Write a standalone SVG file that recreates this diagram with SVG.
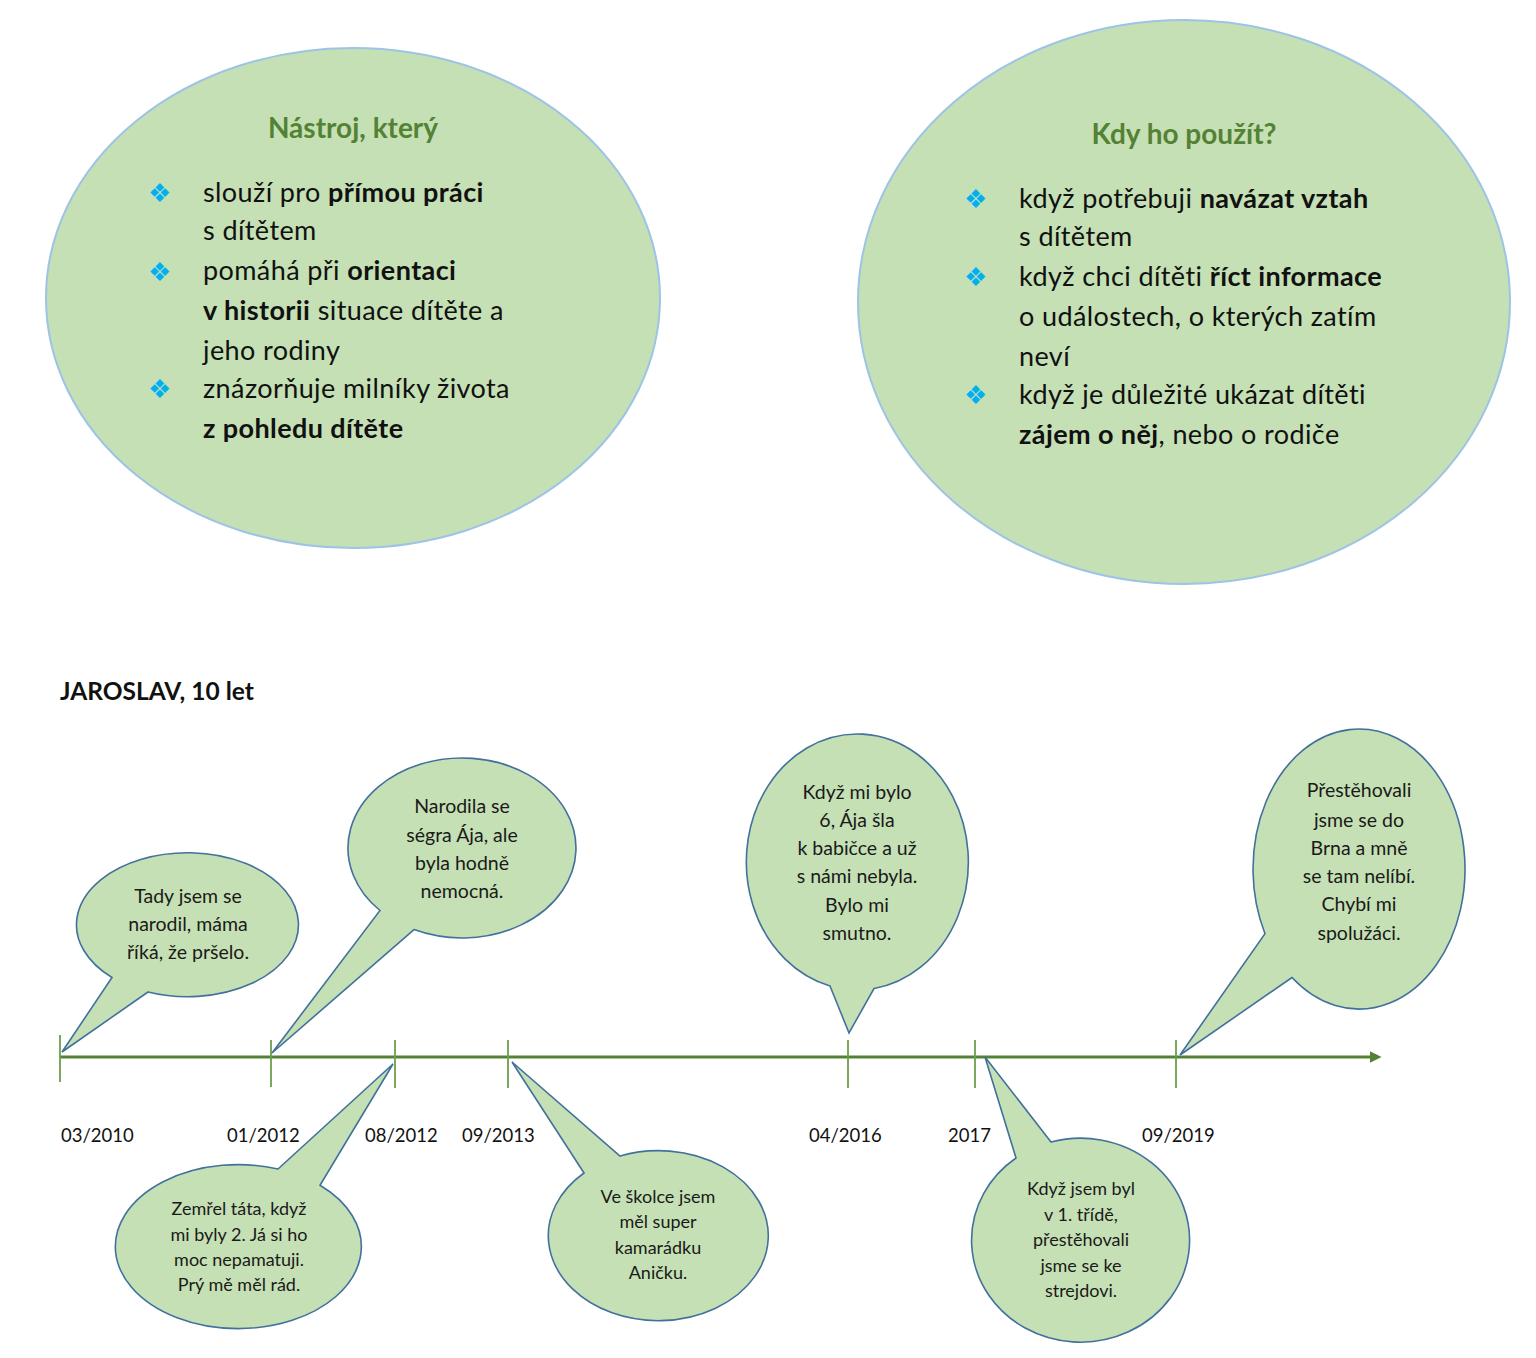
<svg xmlns="http://www.w3.org/2000/svg" width="1536" height="1358" viewBox="0 0 1536 1358">
<style>
.big{fill:#c5e0b4;stroke:#9dc3e6;stroke-width:2}
.bub{fill:#c5e0b4;stroke:#41719c;stroke-width:1.6;stroke-linejoin:miter}
.t{font-family:Lato,"Noto Sans","Open Sans",sans-serif;fill:#111}
.title{font-family:Lato,"Noto Sans",sans-serif;font-weight:bold;font-size:28px;fill:#548235}
.body{font-size:27px;letter-spacing:0.4px}
.b{font-weight:bold}
.bul{font-family:"DejaVu Sans",sans-serif;font-size:26px;fill:#00b0f0}
.bt{font-size:19.5px;text-anchor:middle;fill:#1a1a1a}
.bs{font-size:18px;text-anchor:middle;fill:#1a1a1a}
.date{font-size:18.5px}
.tick{stroke:#6d9f4b;stroke-width:1.8}
</style>
<defs>
<marker id="arr" viewBox="0 0 10 10" refX="2" refY="5" markerWidth="4" markerHeight="4" orient="auto" markerUnits="strokeWidth">
<path d="M0,0 L10,5 L0,10 Z" fill="#548235"/>
</marker>
</defs>
<rect width="1536" height="1358" fill="#ffffff"/>

<g id="tool-ellipse">
<ellipse class="big" cx="353" cy="298" rx="307" ry="250"/>
<text class="title" x="353" y="138" text-anchor="middle">Nástroj, který</text>
<text class="bul" x="148" y="202">❖</text>
<text class="bul" x="148" y="281">❖</text>
<text class="bul" x="148" y="398">❖</text>
<text class="t body" x="203" y="202">slouží pro <tspan class="b">přímou práci</tspan></text>
<text class="t body" x="203" y="240">s dítětem</text>
<text class="t body" x="203" y="280">pomáhá při <tspan class="b">orientaci</tspan></text>
<text class="t body" x="203" y="320"><tspan class="b">v historii</tspan> situace dítěte a</text>
<text class="t body" x="203" y="360">jeho rodiny</text>
<text class="t body" x="203" y="398">znázorňuje milníky života</text>
<text class="t body" x="203" y="438" font-weight="bold">z pohledu dítěte</text>
</g>

<g id="when-ellipse">
<ellipse class="big" cx="1184" cy="302" rx="326" ry="282"/>
<text class="title" x="1184" y="144" text-anchor="middle">Kdy ho použít?</text>
<text class="bul" x="964" y="208">❖</text>
<text class="bul" x="964" y="286">❖</text>
<text class="bul" x="964" y="404">❖</text>
<text class="t body" x="1019" y="208">když potřebuji <tspan class="b">navázat vztah</tspan></text>
<text class="t body" x="1019" y="246">s dítětem</text>
<text class="t body" x="1019" y="286">když chci dítěti <tspan class="b">říct informace</tspan></text>
<text class="t body" x="1019" y="326">o událostech, o kterých zatím</text>
<text class="t body" x="1019" y="366">neví</text>
<text class="t body" x="1019" y="404">když je důležité ukázat dítěti</text>
<text class="t body" x="1019" y="444"><tspan class="b">zájem o něj</tspan>, nebo o rodiče</text>
</g>

<g id="heading">
<text class="t" x="60" y="700" font-size="24.5" font-weight="bold">JAROSLAV, 10 let</text>
</g>

<g id="connectors">
<line x1="60" y1="1057" x2="1372" y2="1057" stroke="#548235" stroke-width="3" marker-end="url(#arr)"/>
<line class="tick" x1="60" y1="1035" x2="60" y2="1082"/>
<line class="tick" x1="271" y1="1040" x2="271" y2="1087"/>
<line class="tick" x1="395" y1="1040" x2="395" y2="1088"/>
<line class="tick" x1="508" y1="1040" x2="508" y2="1088"/>
<line class="tick" x1="848" y1="1040" x2="848" y2="1088"/>
<line class="tick" x1="975" y1="1040" x2="975" y2="1088"/>
<line class="tick" x1="1176" y1="1040" x2="1176" y2="1088"/>
</g>

<g id="dates">
<text class="t date" x="61" y="1142">03/2010</text>
<text class="t date" x="227" y="1142">01/2012</text>
<text class="t date" x="365" y="1142">08/2012</text>
<text class="t date" x="462" y="1142">09/2013</text>
<text class="t date" x="809" y="1142">04/2016</text>
<text class="t date" x="948" y="1142">2017</text>
<text class="t date" x="1142" y="1142">09/2019</text>
</g>

<g id="bubble-2010">
<path class="bub" d="M148,992 L62,1052 L112,977.5 A111,72 0 1 1 148,992 Z"/>
<text class="t bt" x="188" y="903">Tady jsem se</text>
<text class="t bt" x="188" y="931">narodil, máma</text>
<text class="t bt" x="188" y="959">říká, že pršelo.</text>
</g>

<g id="bubble-012012">
<path class="bub" d="M414,929.6 L272,1053 L380,910.5 A114,90 0 1 1 414,929.6 Z"/>
<text class="t bt" x="462" y="813">Narodila se</text>
<text class="t bt" x="462" y="842">ségra Ája, ale</text>
<text class="t bt" x="462" y="870">byla hodně</text>
<text class="t bt" x="462" y="898">nemocná.</text>
</g>

<g id="bubble-082012">
<path class="bub" d="M278,1169 L393,1064 L320,1185.3 A123,82 0 1 1 278,1169 Z"/>
<text class="t bs" x="239" y="1215">Zemřel táta, když</text>
<text class="t bs" x="239" y="1241">mi byly 2. Já si ho</text>
<text class="t bs" x="239" y="1266">moc nepamatuji.</text>
<text class="t bs" x="239" y="1291">Prý mě měl rád.</text>
</g>

<g id="bubble-2013">
<path class="bub" d="M584,1173 L512,1062 L620,1156 A110,85 0 1 1 584,1173 Z"/>
<text class="t bs" x="658" y="1203">Ve školce jsem</text>
<text class="t bs" x="658" y="1228">měl super</text>
<text class="t bs" x="658" y="1254">kamarádku</text>
<text class="t bs" x="658" y="1279">Aničku.</text>
</g>

<g id="bubble-2016">
<path class="bub" d="M830,986 L849,1033 L874,988.5 A111,128 0 1 0 830,986 Z"/>
<text class="t bt" x="857" y="799">Když mi bylo</text>
<text class="t bt" x="857" y="827">6, Ája šla</text>
<text class="t bt" x="857" y="855">k babičce a už</text>
<text class="t bt" x="857" y="883">s námi nebyla.</text>
<text class="t bt" x="857" y="912">Bylo mi</text>
<text class="t bt" x="857" y="940">smutno.</text>
</g>

<g id="bubble-2017">
<path class="bub" d="M1051,1142 L985,1057 L1016,1158 A109,102 0 1 0 1051,1142 Z"/>
<text class="t bs" x="1081" y="1195">Když jsem byl</text>
<text class="t bs" x="1081" y="1221">v 1. třídě,</text>
<text class="t bs" x="1081" y="1246">přestěhovali</text>
<text class="t bs" x="1081" y="1272">jsme se ke</text>
<text class="t bs" x="1081" y="1297">strejdovi.</text>
</g>

<g id="bubble-2019">
<path class="bub" d="M1292,977.5 L1180,1055 L1265,933.7 A106,140 0 1 1 1292,977.5 Z"/>
<text class="t bt" x="1359" y="797">Přestěhovali</text>
<text class="t bt" x="1359" y="827">jsme se do</text>
<text class="t bt" x="1359" y="855">Brna a mně</text>
<text class="t bt" x="1359" y="883">se tam nelíbí.</text>
<text class="t bt" x="1359" y="911">Chybí mi</text>
<text class="t bt" x="1359" y="940">spolužáci.</text>
</g>
</svg>
